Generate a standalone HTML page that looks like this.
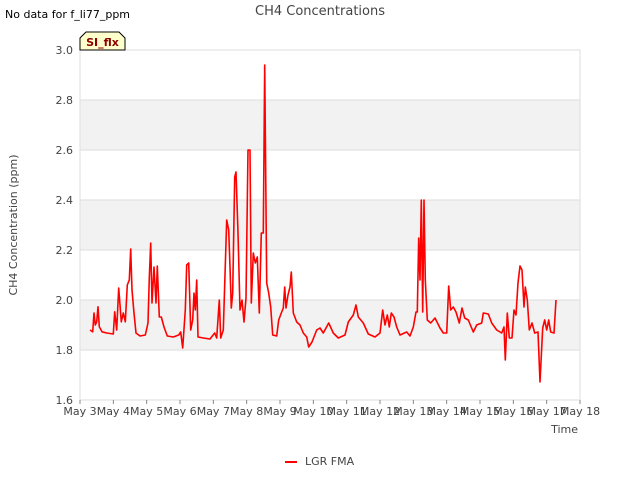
<!DOCTYPE html>
<html><head><meta charset="utf-8"><style>
body{margin:0;background:#fff;font-family:"Liberation Sans","DejaVu Sans",sans-serif}
svg text{font-family:"DejaVu Sans","Liberation Sans",sans-serif}
</style></head><body>
<svg id="c" width="640" height="480" xmlns="http://www.w3.org/2000/svg">
<rect width="640" height="480" fill="#fff"/>
<g id="bands"></g>
<g id="grid"></g>
<rect x="80" y="50" width="500" height="350" fill="none" stroke="#ddd"/>
<g id="xt"></g><g id="yt"></g>
<polyline id="line" fill="none" stroke="#ff0000" stroke-width="1.6" stroke-linejoin="round"/>
<text x="320" y="15" text-anchor="middle" font-size="13" fill="#444">CH4 Concentrations</text>
<text x="5" y="18" font-size="11" fill="#000">No data for f_li77_ppm</text>
<path d="M80,50 L80,38 L86,32 L119,32 L125,38 L125,50 Z" fill="#ffffcc" stroke="#000" stroke-width="1"/>
<text x="102.5" y="46" text-anchor="middle" font-size="11" font-weight="bold" fill="#8b0000">SI_flx</text>
<text transform="translate(17,225) rotate(-90)" text-anchor="middle" font-size="11" fill="#444">CH4 Concentration (ppm)</text>
<text x="578" y="433" text-anchor="end" font-size="11" fill="#444">Time</text>
<line x1="285" y1="462" x2="297" y2="462" stroke="#ff0000" stroke-width="2"/>
<text x="305" y="465" font-size="11" fill="#444">LGR FMA</text>
</svg>
<script>
const days=[3.30,3.38,3.42,3.46,3.50,3.54,3.58,3.66,3.80,4.00,4.04,4.10,4.16,4.24,4.30,4.36,4.42,4.48,4.52,4.56,4.62,4.68,4.80,4.96,5.04,5.08,5.12,5.16,5.22,5.28,5.32,5.38,5.44,5.52,5.62,5.80,5.96,6.02,6.08,6.16,6.20,6.26,6.32,6.38,6.42,6.46,6.50,6.54,6.70,6.90,7.04,7.10,7.18,7.22,7.30,7.40,7.46,7.50,7.54,7.58,7.64,7.68,7.74,7.80,7.86,7.92,7.98,8.04,8.10,8.14,8.20,8.26,8.32,8.38,8.44,8.50,8.54,8.60,8.66,8.72,8.78,8.90,8.96,9.04,9.10,9.14,9.18,9.24,9.30,9.34,9.40,9.50,9.60,9.70,9.80,9.86,9.96,10.10,10.20,10.30,10.46,10.60,10.75,10.95,11.05,11.20,11.28,11.35,11.50,11.65,11.85,12.00,12.08,12.15,12.22,12.28,12.34,12.42,12.50,12.60,12.80,12.90,13.00,13.08,13.12,13.16,13.20,13.24,13.28,13.32,13.36,13.42,13.52,13.65,13.80,13.90,14.00,14.06,14.12,14.20,14.28,14.38,14.46,14.54,14.65,14.80,14.90,15.05,15.10,15.25,15.35,15.50,15.65,15.72,15.76,15.82,15.88,15.96,16.02,16.08,16.14,16.20,16.26,16.32,16.36,16.42,16.48,16.56,16.64,16.74,16.80,16.88,16.94,17.00,17.06,17.12,17.22,17.28];
const ch4=[1.88,1.873,1.948,1.90,1.913,1.973,1.893,1.873,1.868,1.864,1.953,1.88,2.048,1.913,1.948,1.913,2.06,2.08,2.204,2.04,1.948,1.868,1.856,1.86,1.908,2.088,2.228,1.988,2.132,1.988,2.136,1.932,1.932,1.892,1.856,1.852,1.86,1.872,1.808,1.96,2.14,2.148,1.88,1.92,2.028,1.96,2.08,1.852,1.848,1.844,1.868,1.848,2.00,1.848,1.88,2.32,2.28,2.132,1.968,2.028,2.492,2.512,2.268,1.96,2.00,1.912,2.008,2.60,2.60,1.988,2.188,2.148,2.172,1.948,2.268,2.268,2.94,2.068,2.028,1.972,1.86,1.856,1.92,1.948,1.968,2.052,1.968,2.02,2.052,2.112,1.948,1.912,1.90,1.868,1.852,1.812,1.832,1.88,1.888,1.868,1.908,1.868,1.848,1.86,1.912,1.94,1.98,1.932,1.908,1.864,1.852,1.868,1.96,1.90,1.94,1.892,1.948,1.932,1.892,1.86,1.872,1.856,1.892,1.952,1.952,2.248,2.08,2.40,1.952,2.40,2.08,1.92,1.908,1.928,1.888,1.868,1.868,2.056,1.96,1.972,1.952,1.908,1.968,1.928,1.92,1.872,1.90,1.908,1.948,1.944,1.908,1.88,1.868,1.892,1.76,1.948,1.848,1.848,1.96,1.94,2.068,2.136,2.12,1.972,2.052,2.00,1.88,1.908,1.868,1.872,1.672,1.888,1.92,1.88,1.92,1.872,1.868,2.00];
const xTickDays=[3,4,5,6,7,8,9,10,11,12,13,14,15,16,17,18];
const xTickLabels=["May 3","May 4","May 5","May 6","May 7","May 8","May 9","May 10","May 11","May 12","May 13","May 14","May 15","May 16","May 17","May 18"];
const yTicks=[1.6,1.8,2.0,2.2,2.4,2.6,2.8,3.0];
const X0=80,X1=580,Y0=400,Y1=50;
const xs=d=>X0+(d-3)/(18-3)*(X1-X0);
const ys=v=>Y0-(v-1.6)/(3.0-1.6)*(Y0-Y1);
const NS="http://www.w3.org/2000/svg";
function mk(t,a,p){const e=document.createElementNS(NS,t);for(const k in a)e.setAttribute(k,a[k]);p.appendChild(e);return e;}
const bands=document.getElementById('bands'),grid=document.getElementById('grid'),yt=document.getElementById('yt'),xt=document.getElementById('xt');
for(let i=0;i<yTicks.length-1;i++){
  if(i%2===1){const r=mk('rect',{x:X0,y:ys(yTicks[i+1]),width:X1-X0,height:ys(yTicks[i])-ys(yTicks[i+1]),fill:'#f2f2f2'},bands);
  
  }
}
yTicks.forEach(v=>{
  const l=mk('line',{x1:X0,x2:X1,y1:ys(v),y2:ys(v),stroke:'#ddd'},grid);
  
  
  const t=mk('text',{x:73,y:ys(v)+4,'text-anchor':'end','font-size':11,fill:'#444'},yt);
  t.textContent=v.toFixed(1);
  
  
});
xTickDays.forEach((d,i)=>{
  const l=mk('line',{x1:xs(d),x2:xs(d),y1:Y0,y2:Y0+4,stroke:'#888'},xt);
  
  
  const t=mk('text',{x:xs(d),y:415,'text-anchor':'middle','font-size':11,fill:'#444'},xt);
  t.textContent=xTickLabels[i];
  
  
});
document.getElementById('line').setAttribute('points',days.map((d,i)=>xs(d).toFixed(1)+','+ys(ch4[i]).toFixed(1)).join(' '));
</script>
</body></html>
